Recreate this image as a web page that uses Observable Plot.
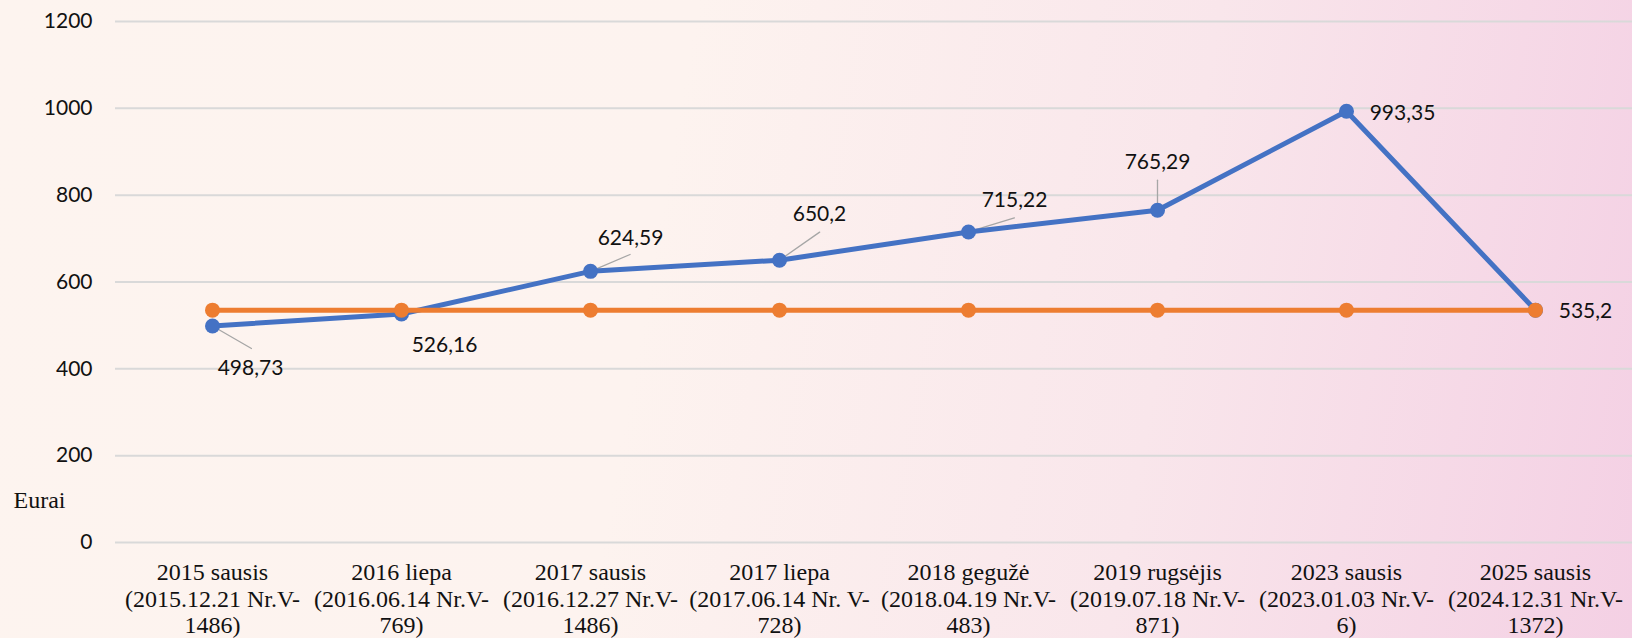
<!DOCTYPE html>
<html>
<head>
<meta charset="utf-8">
<script src="https://cdn.jsdelivr.net/npm/d3@7"></script>
<script src="https://cdn.jsdelivr.net/npm/@observablehq/plot@0.6"></script>
<style>
  html, body { margin: 0; padding: 0; }
  body {
    width: 1632px; height: 638px; overflow: hidden;
    background: linear-gradient(100deg, #fdf4ef 0%, #fdf3ef 40%, #f9e6eb 70%, #f4d0e4 100%);
  }
  #chart svg { display: block; }
</style>
</head>
<body>
<div id="chart"></div>
<script>
// ---- data ----
const categories = [
  "2015 sausis\n(2015.12.21 Nr.V-\n1486)",
  "2016 liepa\n(2016.06.14 Nr.V-\n769)",
  "2017 sausis\n(2016.12.27 Nr.V-\n1486)",
  "2017 liepa\n(2017.06.14 Nr. V-\n728)",
  "2018 gegužė\n(2018.04.19 Nr.V-\n483)",
  "2019 rugsėjis\n(2019.07.18 Nr.V-\n871)",
  "2023 sausis\n(2023.01.03 Nr.V-\n6)",
  "2025 sausis\n(2024.12.31 Nr.V-\n1372)"
];
const blueValues = [498.73, 526.16, 624.59, 650.2, 715.22, 765.29, 993.35, 535.2];
const orangeValues = [535.2, 535.2, 535.2, 535.2, 535.2, 535.2, 535.2, 535.2];
const yTicks = [0, 200, 400, 600, 800, 1000, 1200];
const yLabel = "Eurai";

// ---- label placement (pixel offsets from each point) ----
const labelOffsets = [[38, 42], [43, 31], [40, -33], [40, -46], [46, -32], [0, -48], [56, 2], [50, 1]];
// leader lines: [index, length px, rotation deg]
const leaders = [[0, 45, 120], [2, 43, 67], [3, 49, 55], [4, 48, 73], [5, 30, 0]];

const rows = categories.map((c, i) => ({cat: c, blue: blueValues[i], orange: orangeValues[i]}));
const fmt = v => String(v).replace(".", ",");

const BLUE = "#4472c4", ORANGE = "#ed7d31";
const lineShape = {draw(ctx, l) { ctx.moveTo(0, 0); ctx.lineTo(0, -l); }};

const chart = Plot.plot({
  width: 1632,
  height: 638,
  marginLeft: 115,
  marginRight: 0,
  marginTop: 21,
  marginBottom: 96,
  style: {fontFamily: "Lato, sans-serif", fontSize: "21px", background: "transparent", color: "#111"},
  x: {type: "point", domain: categories, padding: 0.5, label: null},
  y: {domain: [0, 1200], label: null},
  marks: [
    Plot.ruleY(yTicks, {stroke: "#d9d9d9", strokeWidth: 2}),
    Plot.axisY({ticks: yTicks, tickFormat: d => String(d), tickSize: 0, tickPadding: 23, label: null, fontSize: 21, fill: "#111"}),
    Plot.axisX({tickSize: 0, tickPadding: 19, label: null, fontFamily: "'Liberation Serif', 'Times New Roman', serif",
                fontSize: 24, lineHeight: 1.1, fill: "#111", textOverflow: null}),
    Plot.text([yLabel], {frameAnchor: "bottom-left", dx: -102, dy: -35, textAnchor: "start",
                fontFamily: "'Liberation Serif', 'Times New Roman', serif", fontSize: 24, fill: "#111"}),
    ...leaders.map(([i, len, rot]) => Plot.vector([rows[i]], {x: "cat", y: "blue", length: len, rotate: rot,
                anchor: "start", shape: lineShape, stroke: "#a6a6a6", strokeWidth: 1.3})),
    Plot.line(rows, {x: "cat", y: "blue", stroke: BLUE, strokeWidth: 5, strokeLinejoin: "round"}),
    Plot.dot(rows, {x: "cat", y: "blue", r: 7.5, fill: BLUE}),
    Plot.line(rows, {x: "cat", y: "orange", stroke: ORANGE, strokeWidth: 5}),
    Plot.dot(rows, {x: "cat", y: "orange", r: 7.5, fill: ORANGE}),
    ...rows.map((r, i) => Plot.text([r], {x: "cat", y: "blue", text: d => fmt(d.blue),
                dx: labelOffsets[i][0], dy: labelOffsets[i][1], fontSize: 21, fill: "#111"}))
  ]
});
document.getElementById("chart").append(chart);
</script>
</body>
</html>
